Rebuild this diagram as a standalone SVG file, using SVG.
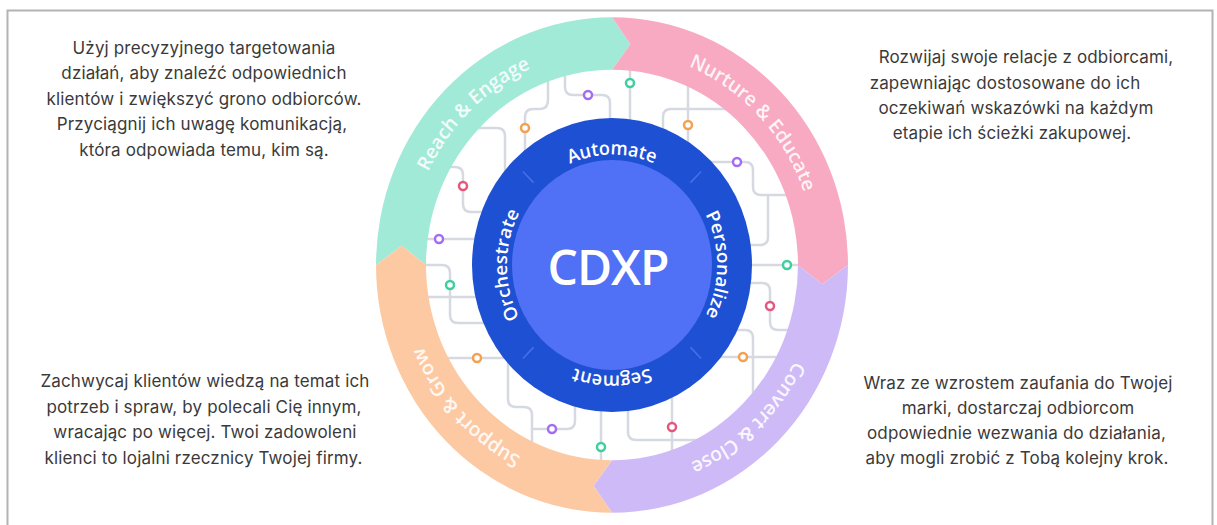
<svg xmlns="http://www.w3.org/2000/svg" width="1217" height="525" viewBox="0 0 1217 525">
<style>
.body{font-family:Inter,"Noto Sans",sans-serif;font-size:17px;letter-spacing:0.15px;fill:#3a3a3a;text-anchor:middle}
.ring{font-family:"Open Sans","Noto Sans",sans-serif;font-size:19px;font-weight:600;fill:#fff;fill-opacity:.88}
.inner{font-family:"Open Sans","Noto Sans",sans-serif;font-size:18px;font-weight:600;fill:#fff}
.wire{fill:none;stroke:#d6d9e1;stroke-width:2.5;stroke-linecap:round}
.dot{fill:#fff;stroke-width:2.5}
.g{stroke:#3ecf9e}.p{stroke:#a46cf2}.o{stroke:#f5a04e}.r{stroke:#e5577f}
.tick{stroke:#5a7aee;stroke-width:1.5;stroke-opacity:.75}
</style>
<defs>
<path id="outerTP" d="M 204 0 A 204 204 0 1 1 -204 0 A 204 204 0 1 1 204 0"/>
<path id="innerTP" d="M 74.246 74.246 A 105 105 0 1 1 -74.246 -74.246 A 105 105 0 1 1 74.246 74.246"/>
</defs>
<rect width="1217" height="525" fill="#fff"/>
<path d="M7.5 525 V10.5 H1212.5 V525" fill="none" stroke="#b3b3b3" stroke-width="2"/>

<g id="connectors">
<path class="wire" d="M630,60 V130"/>
<path class="wire" d="M565,60 V87 Q565,95 573,95 H602 Q610,95 610,103 V130"/>
<path class="wire" d="M548,65 V100 Q548,109 540,109 H533 Q525,109 525,117 V160"/>
<path class="wire" d="M465,128 H497 Q505,128 505,136 V180"/>
<path class="wire" d="M440,167 H455 Q463,167 463,175 V204 Q463,212 471,212 H490"/>
<path class="wire" d="M410,239 H480"/>
<path class="wire" d="M688,75 V150"/>
<path class="wire" d="M663,140 V117 Q663,109 671,109 H730"/>
<path class="wire" d="M705,162 H745 Q753,162 753,170 V187 Q753,195 761,195 H800"/>
<path class="wire" d="M745,245 H760 Q768,245 768,237 V195"/>
<path class="wire" d="M745,265 H810"/>
<path class="wire" d="M745,283 H762 Q770,283 770,291 V322 Q770,330 778,330 H800"/>
<path class="wire" d="M725,330 H745 Q753,330 753,338 V405"/>
<path class="wire" d="M715,357 H795"/>
<path class="wire" d="M672,395 V465"/>
<path class="wire" d="M628,405 V432 Q628,440 636,440 H712"/>
<path class="wire" d="M601,405 V470"/>
<path class="wire" d="M575,400 V421 Q575,429 567,429 H532"/>
<path class="wire" d="M508,355 V399 Q508,407 516,407 H524 Q532,407 532,415 V455"/>
<path class="wire" d="M430,358 H510"/>
<path class="wire" d="M410,265 H442 Q450,265 450,273 V315 Q450,323 458,323 H490"/>
<path class="wire" d="M410,297 H480"/>
<circle class="dot g" cx="630" cy="83" r="4"/>
<circle class="dot p" cx="588" cy="95" r="4"/>
<circle class="dot o" cx="525" cy="128" r="4"/>
<circle class="dot o" cx="688" cy="125" r="4"/>
<circle class="dot p" cx="737" cy="162" r="4"/>
<circle class="dot r" cx="463" cy="186" r="4"/>
<circle class="dot p" cx="439" cy="239" r="4"/>
<circle class="dot g" cx="787" cy="265" r="4"/>
<circle class="dot g" cx="450" cy="285" r="4"/>
<circle class="dot r" cx="770" cy="306" r="4"/>
<circle class="dot o" cx="477" cy="358" r="4"/>
<circle class="dot o" cx="743" cy="357" r="4"/>
<circle class="dot p" cx="552" cy="429" r="4"/>
<circle class="dot r" cx="672" cy="427" r="4"/>
<circle class="dot g" cx="601" cy="447" r="4"/>
</g>

<g transform="translate(612,265) scale(1,1.05)">
<g id="reach-engage">
<path fill="#a2ead8" d="M -236 0 A 236 236 0 0 1 0 -236 L 18.39 -210.2 L 0 -186 A 186 186 0 0 0 -186 0 L -210.2 -18.39 Z"/>
<text class="ring" text-anchor="middle"><textPath href="#outerTP" startOffset="804.67">Reach &amp; Engage</textPath></text>
</g>
<g id="nurture-educate">
<path fill="#f7aac1" d="M 0 -236 A 236 236 0 0 1 236 0 L 210.2 18.39 L 186 0 A 186 186 0 0 0 0 -186 L 18.39 -210.2 Z"/>
<text class="ring" text-anchor="middle"><textPath href="#outerTP" startOffset="1125.11">Nurture &amp; Educate</textPath></text>
</g>
<g id="convert-close">
<path fill="#cfbaf8" d="M 236 0 A 236 236 0 0 1 0 236 L -18.39 210.2 L 0 186 A 186 186 0 0 0 186 0 L 210.2 18.39 Z"/>
<text class="ring" text-anchor="middle"><textPath href="#outerTP" startOffset="167.34">Convert &amp; Close</textPath></text>
</g>
<g id="support-grow">
<path fill="#fdc9a3" d="M 0 236 A 236 236 0 0 1 -236 0 L -210.2 -18.39 L -186 0 A 186 186 0 0 0 0 186 L -18.39 210.2 Z"/>
<text class="ring" text-anchor="middle"><textPath href="#outerTP" startOffset="487.78">Support &amp; Grow</textPath></text>
</g>
<g id="cdxp">
<circle r="140" fill="#1e50d4"/>
<line class="tick" x1="-78.5" y1="-78.5" x2="-89.1" y2="-89.1"/>
<line class="tick" x1="78.5" y1="-78.5" x2="89.1" y2="-89.1"/>
<line class="tick" x1="78.5" y1="78.5" x2="89.1" y2="89.1"/>
<line class="tick" x1="-78.5" y1="78.5" x2="-89.1" y2="89.1"/>
<circle r="100" fill="#5070f5"/>
<text class="inner" text-anchor="middle"><textPath href="#innerTP" startOffset="412.33">Automate</textPath></text>
<text class="inner" text-anchor="middle"><textPath href="#innerTP" startOffset="577.27">Personalize</textPath></text>
<text class="inner" text-anchor="middle"><textPath href="#innerTP" startOffset="82.47">Segment</textPath></text>
<text class="inner" text-anchor="middle"><textPath href="#innerTP" startOffset="247.4">Orchestrate</textPath></text>
</g>
</g>
<text x="608" y="285" font-family="'Open Sans','Noto Sans',sans-serif" font-size="48" font-weight="600" letter-spacing="-1" fill="#fff" text-anchor="middle">CDXP</text>

<g id="text-reach">
<text class="body" x="204" y="53.5">Użyj precyzyjnego targetowania</text>
<text class="body" x="204" y="79">działań, aby znaleźć odpowiednich</text>
<text class="body" x="204" y="104.5">klientów i zwiększyć grono odbiorców.</text>
<text class="body" x="202" y="130">Przyciągnij ich uwagę komunikacją,</text>
<text class="body" x="204" y="155.5">która odpowiada temu, kim są.</text>
</g>
<g id="text-nurture">
<text class="body" x="1026" y="63">Rozwijaj swoje relacje z odbiorcami,</text>
<text class="body" x="1005" y="88.5">zapewniając dostosowane do ich</text>
<text class="body" x="1016" y="113.5">oczekiwań wskazówki na każdym</text>
<text class="body" x="1012" y="138.5">etapie ich ścieżki zakupowej.</text>
</g>
<g id="text-support">
<text class="body" x="205" y="387">Zachwycaj klientów wiedzą na temat ich</text>
<text class="body" x="204" y="412.5">potrzeb i spraw, by polecali Cię innym,</text>
<text class="body" x="205" y="438">wracając po więcej. Twoi zadowoleni</text>
<text class="body" x="203.5" y="463.5">klienci to lojalni rzecznicy Twojej firmy.</text>
</g>
<g id="text-convert">
<text class="body" x="1018" y="388.5">Wraz ze wzrostem zaufania do Twojej</text>
<text class="body" x="1018" y="414">marki, dostarczaj odbiorcom</text>
<text class="body" x="1016.5" y="438.5">odpowiednie wezwania do działania,</text>
<text class="body" x="1017" y="463.5">aby mogli zrobić z Tobą kolejny krok.</text>
</g>
</svg>
